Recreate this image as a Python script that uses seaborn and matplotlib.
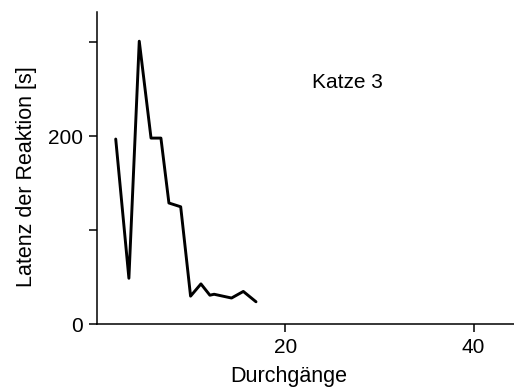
import matplotlib
matplotlib.use("Agg")
import matplotlib.pyplot as plt
import seaborn as sns
import pandas as pd

# Data
durchgaenge = [2.0, 3.4, 4.5, 5.75, 6.8, 7.65, 8.9, 9.95, 11.05, 12.0, 12.45, 14.3, 15.55, 16.9]
latenz = [197, 49, 301, 198, 198, 129, 125, 30, 43, 31, 32, 28, 35, 24]
x_ticks = [20, 40]
y_ticks = [0, 100, 200, 300]
y_ticklabels = ["0", "", "200", ""]

df = pd.DataFrame({"Durchgänge": durchgaenge, "Latenz": latenz})

sns.set_style("ticks")
plt.rcParams["font.family"] = ["Liberation Sans", "DejaVu Sans"]
plt.rcParams["text.color"] = "black"
plt.rcParams["axes.labelcolor"] = "black"

fig = plt.figure(figsize=(5.14, 3.88), dpi=100)
ax = fig.add_axes([0.1885, 0.164, 0.8115, 0.805])

sns.lineplot(data=df, x="Durchgänge", y="Latenz", ax=ax, color="black",
             linewidth=2.1, sort=False)

ax.set_xlim(0, 44.3)
ax.set_ylim(0, 332)
ax.set_xticks(x_ticks)
ax.set_xticklabels([str(t) for t in x_ticks])
ax.set_yticks(y_ticks)
ax.set_yticklabels(y_ticklabels)
ax.tick_params(axis="both", direction="out", length=6, width=1.1,
               labelsize=15, colors="black", labelcolor="black", pad=4)

for s in ["top", "right"]:
    ax.spines[s].set_visible(False)
for s in ["left", "bottom"]:
    ax.spines[s].set_linewidth(1.1)
    ax.spines[s].set_color("black")

ax.set_xlabel("Durchgänge", fontsize=15.5, color="black")
ax.set_ylabel("Latenz der Reaktion [s]", fontsize=15.5, color="black")
ax.xaxis.set_label_coords(0.4606, -0.133)
ax.yaxis.set_label_coords(-0.143, 0.473)

ax.text(22.8, 257, "Katze 3", fontsize=15, ha="left", va="center", color="black")

fig.savefig("out.png", dpi=100)
